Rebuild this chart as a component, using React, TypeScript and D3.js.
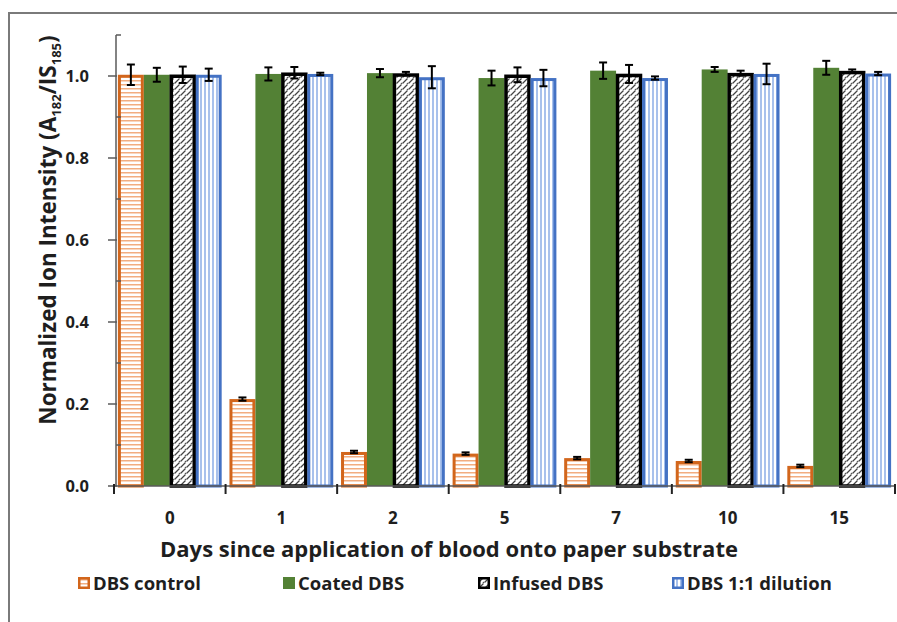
import React, { useEffect, useRef } from "react";
import * as d3 from "d3";

// chart data
const days = ["0", "1", "2", "5", "7", "10", "15"];
const seriesNames = ["DBS control", "Coated DBS", "Infused DBS", "DBS 1:1 dilution"];

const dbsControl = [1.003, 0.212, 0.083, 0.079, 0.068, 0.061, 0.049];
const dbsControlErr = [0.025, 0.004, 0.003, 0.003, 0.003, 0.003, 0.003];
const coatedDbs = [1.003, 1.005, 1.007, 0.995, 1.013, 1.016, 1.02];
const coatedDbsErr = [0.017, 0.016, 0.01, 0.018, 0.02, 0.006, 0.017];
const infusedDbs = [1.003, 1.008, 1.006, 1.003, 1.005, 1.007, 1.012];
const infusedDbsErr = [0.02, 0.014, 0.004, 0.018, 0.022, 0.006, 0.004];
const dilutionDbs = [1.003, 1.005, 0.997, 0.995, 0.995, 1.005, 1.006];
const dilutionDbsErr = [0.015, 0.003, 0.027, 0.02, 0.004, 0.025, 0.004];

const yTicks = [0, 0.2, 0.4, 0.6, 0.8, 1.0];
const yMinorTicks = [0.1, 0.3, 0.5, 0.7, 0.9, 1.1];

const App = () => {
    const svgRef = useRef<SVGSVGElement>(null);

    useEffect(() => {
        const svg = d3.select(svgRef.current);
        svg.selectAll("*").remove();

        const width = 897;
        const height = 622;
        const plot = { left: 116, right: 895, top: 35, bottom: 486 };
        const fontFamily = "'Open Sans', Lato, sans-serif";
        const orange = "#d2661c";
        const green = "#538135";
        const blue = "#4472c4";
        const axisColor = "#5a5a5a";
        const textColor = "#1e1e1e";

        svg.attr("width", width).attr("height", height);

        // Patterns for the hatched bars
        const defs = svg.append("defs");
        const pOrange = defs.append("pattern")
            .attr("id", "pat-orange")
            .attr("patternUnits", "userSpaceOnUse")
            .attr("width", 6).attr("height", 4);
        pOrange.append("rect").attr("width", 6).attr("height", 4).attr("fill", "#fff");
        pOrange.append("rect").attr("y", 0).attr("width", 6).attr("height", 1.5).attr("fill", "#f2ad80");

        const pInfused = defs.append("pattern")
            .attr("id", "pat-infused")
            .attr("patternUnits", "userSpaceOnUse")
            .attr("width", 6).attr("height", 6);
        pInfused.append("rect").attr("width", 6).attr("height", 6).attr("fill", "#fff");
        pInfused.append("path")
            .attr("d", "M0.5,5.5 L5.5,0.5")
            .attr("stroke", "#444").attr("stroke-width", 1.3);
        pInfused.append("circle").attr("cx", 5.5).attr("cy", 5.5).attr("r", 0.8).attr("fill", "#555");

        const pBlue = defs.append("pattern")
            .attr("id", "pat-blue")
            .attr("patternUnits", "userSpaceOnUse")
            .attr("width", 4).attr("height", 6);
        pBlue.append("rect").attr("width", 4).attr("height", 6).attr("fill", "#fff");
        pBlue.append("rect").attr("x", 0).attr("width", 2).attr("height", 6).attr("fill", "#a8c1ec");

        // Outer frame
        svg.append("path")
            .attr("d", `M${width + 5},13 L9,13 L9,${height + 5}`)
            .attr("fill", "none")
            .attr("stroke", "#7a7a7a")
            .attr("stroke-width", 2);

        // Scales
        const x0 = d3.scaleBand().domain(days).range([plot.left - 2, plot.right]).paddingInner(0).paddingOuter(0);
        const x1 = d3.scaleBand().domain(seriesNames).range([0, x0.bandwidth()]).paddingOuter(0.15).paddingInner(0);
        const y = d3.scaleLinear().domain([0, 1.1]).range([plot.bottom, plot.top]);

        const values = [dbsControl, coatedDbs, infusedDbs, dilutionDbs];
        const errors = [dbsControlErr, coatedDbsErr, infusedDbsErr, dilutionDbsErr];
        const fills = ["url(#pat-orange)", green, "url(#pat-infused)", "url(#pat-blue)"];
        const strokes = [orange, "none", "#000", blue];

        const rows = days.flatMap((day, i) =>
            seriesNames.map((name, s) => ({ day, name, s, value: values[s][i], err: errors[s][i] }))
        );

        const bars = svg.append("g");
        const sw = 3;
        bars.selectAll("rect")
            .data(rows)
            .join("rect")
            .attr("x", (d) => x0(d.day)! + x1(d.name)! + (d.s === 1 ? 0 : sw / 2))
            .attr("y", (d) => y(d.value) + (d.s === 1 ? 0 : sw / 2))
            .attr("width", (d) => x1.bandwidth() - (d.s === 1 ? 0 : sw))
            .attr("height", (d) => y(0) - y(d.value) - (d.s === 1 ? 0 : sw / 2))
            .attr("fill", (d) => fills[d.s])
            .attr("stroke", (d) => strokes[d.s])
            .attr("stroke-width", (d) => (d.s === 2 ? 3.5 : sw));

        // Error bars
        const errG = svg.append("g").attr("stroke", "#000").attr("stroke-width", 2);
        rows.forEach((d) => {
            const cx = x0(d.day)! + x1(d.name)! + x1.bandwidth() / 2;
            const yTop = y(d.value + d.err);
            const yBot = y(d.value - d.err);
            errG.append("line").attr("x1", cx).attr("x2", cx).attr("y1", yTop).attr("y2", yBot);
            errG.append("line").attr("x1", cx - 4).attr("x2", cx + 4).attr("y1", yTop).attr("y2", yTop);
            errG.append("line").attr("x1", cx - 4).attr("x2", cx + 4).attr("y1", yBot).attr("y2", yBot);
        });

        // Y axis
        const yAxis = svg.append("g").attr("stroke", axisColor).attr("stroke-width", 1.5);
        yAxis.append("line").attr("x1", plot.left).attr("x2", plot.left).attr("y1", plot.top).attr("y2", plot.bottom);
        yTicks.forEach((t) => {
            yAxis.append("line").attr("x1", plot.left - 8).attr("x2", plot.left + 1).attr("y1", y(t)).attr("y2", y(t));
        });
        yMinorTicks.forEach((t) => {
            yAxis.append("line").attr("x1", plot.left).attr("x2", plot.left + 5).attr("y1", y(t)).attr("y2", y(t));
        });
        svg.append("g")
            .selectAll("text")
            .data(yTicks)
            .join("text")
            .attr("x", plot.left - 27)
            .attr("y", (d) => y(d))
            .attr("dy", "0.36em")
            .attr("text-anchor", "end")
            .style("font-family", fontFamily)
            .style("font-weight", "bold")
            .style("font-size", "16.5px")
            .style("fill", textColor)
            .text((d) => d3.format(".1f")(d));

        // X axis
        const xAxis = svg.append("g").attr("stroke", axisColor).attr("stroke-width", 1.5);
        xAxis.append("line").attr("x1", plot.left - 2).attr("x2", plot.right).attr("y1", plot.bottom).attr("y2", plot.bottom);
        [...days.map((d) => x0(d)!), plot.right].forEach((tx) => {
            xAxis.append("line").attr("x1", tx).attr("x2", tx).attr("y1", plot.bottom - 2).attr("y2", plot.bottom + 8)
                .attr("stroke", "#222").attr("stroke-width", 2);
        });
        svg.append("g")
            .selectAll("text")
            .data(days)
            .join("text")
            .attr("x", (d) => x0(d)! + x0.bandwidth() / 2)
            .attr("y", 524)
            .attr("text-anchor", "middle")
            .style("font-family", fontFamily)
            .style("font-weight", "bold")
            .style("font-size", "17px")
            .style("fill", textColor)
            .text((d) => d);

        // Axis labels
        svg.append("text")
            .attr("x", 449)
            .attr("y", 557)
            .attr("text-anchor", "middle")
            .style("font-family", fontFamily)
            .style("font-weight", "bold")
            .style("font-size", "22px")
            .style("fill", textColor)
            .text("Days since application of blood onto paper substrate");

        const yLabel = svg.append("text")
            .attr("transform", "translate(56, 230) rotate(-90)")
            .attr("text-anchor", "middle")
            .style("font-family", fontFamily)
            .style("font-weight", "bold")
            .style("font-size", "22.5px")
            .style("fill", textColor);
        yLabel.append("tspan").text("Normalized Ion Intensity (A");
        yLabel.append("tspan").attr("dy", 5).style("font-size", "13px").text("182");
        yLabel.append("tspan").attr("dy", -5).text("/IS");
        yLabel.append("tspan").attr("dy", 5).style("font-size", "13px").text("185");
        yLabel.append("tspan").attr("dy", -5).text(")");

        // Legend
        const legendX = [78, 283, 478, 672];
        const legend = svg.append("g");
        seriesNames.forEach((name, s) => {
            const g = legend.append("g").attr("transform", `translate(${legendX[s]}, 583)`);
            g.append("rect")
                .attr("x", s === 1 ? 0 : 1.25)
                .attr("y", s === 1 ? -6 : -4.75)
                .attr("width", s === 1 ? 12 : 9.5)
                .attr("height", s === 1 ? 12 : 9.5)
                .attr("fill", fills[s])
                .attr("stroke", strokes[s])
                .attr("stroke-width", 2.5);
            g.append("text")
                .attr("x", 15)
                .attr("dy", "0.36em")
                .style("font-family", fontFamily)
                .style("font-weight", "bold")
                .style("font-size", "18.5px")
                .style("fill", textColor)
                .text(name);
        });
    }, []);

    return (
        <svg ref={svgRef} style={{ position: "absolute", left: 0, top: 0 }}></svg>
    );
};

export default App;
